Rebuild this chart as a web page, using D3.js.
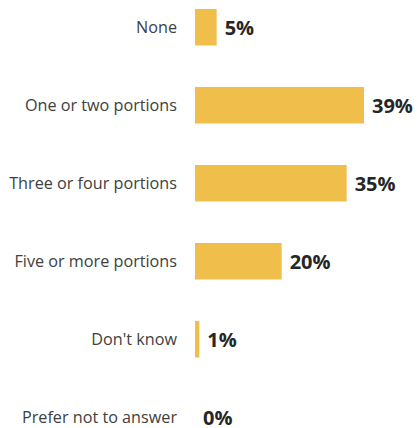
<!DOCTYPE html>
<html>
<head>
<meta charset="utf-8">
<script src="https://cdn.jsdelivr.net/npm/d3@7"></script>
<style>
  html, body { margin: 0; padding: 0; background: #fff; }
  svg { display: block; }
</style>
</head>
<body>
<svg id="chart" width="417" height="428"></svg>
<script>
const categories = ["None", "One or two portions", "Three or four portions", "Five or more portions", "Don't know", "Prefer not to answer"];
const values = [5, 39, 35, 20, 1, 0];
const valueLabels = ["5%", "39%", "35%", "20%", "1%", "0%"];

const svg = d3.select("#chart");
const x0 = 195;
const x = d3.scaleLinear().domain([0, 39]).range([x0, 364]);
const y = d3.scaleBand().domain(categories).range([9, 9 + 5 * 78 + 36.5]).paddingInner(0.532).paddingOuter(0);

svg.selectAll("rect.bar").data(categories).join("rect")
  .attr("class", "bar")
  .attr("x", x0)
  .attr("y", d => y(d))
  .attr("width", (d, i) => x(values[i]) - x0)
  .attr("height", y.bandwidth())
  .attr("fill", "#F0BE4B");

svg.selectAll("text.cat").data(categories).join("text")
  .attr("class", "cat")
  .attr("x", 177)
  .attr("y", d => y(d) + y.bandwidth() / 2)
  .attr("dy", "0.35em")
  .attr("text-anchor", "end")
  .attr("font-family", "'Open Sans', sans-serif")
  .attr("font-size", 16.2)
  .attr("fill", "#404040")
  .text(d => d);

svg.selectAll("text.val").data(categories).join("text")
  .attr("class", "val")
  .attr("x", (d, i) => x(values[i]) + 8)
  .attr("y", d => y(d) + y.bandwidth() / 2 + 1)
  .attr("dy", "0.35em")
  .attr("font-family", "'Open Sans', sans-serif")
  .attr("font-weight", "bold")
  .attr("font-size", 20)
  .attr("fill", "#262626")
  .text((d, i) => valueLabels[i]);
</script>
</body>
</html>
